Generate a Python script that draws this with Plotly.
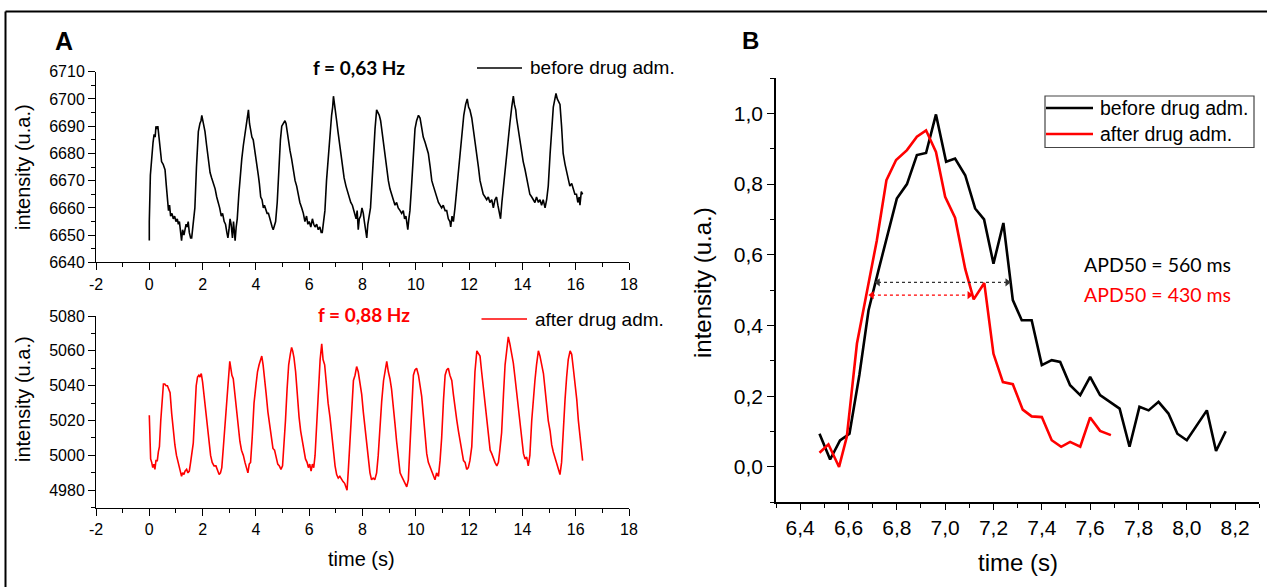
import plotly.graph_objects as go

W, H = 1267, 587

# ---------------- Panel A, top: before drug administration ----------------
before_time = [0.00, 0.00, 0.04, 0.09, 0.14, 0.18, 0.22, 0.25, 0.28, 0.32, 0.35, 0.38, 0.42, 0.46, 0.52, 0.59, 0.64, 0.69, 0.72, 0.76,
               0.80, 0.85, 0.90, 0.95, 1.00, 1.05, 1.09, 1.13, 1.17, 1.21, 1.25, 1.30, 1.34, 1.38, 1.42, 1.46, 1.50, 1.55, 1.59, 1.64,
               1.68, 1.71, 1.77, 1.84, 1.90, 1.94, 1.97, 2.01, 2.05, 2.09, 2.15, 2.22, 2.28, 2.34, 2.40, 2.47, 2.53, 2.59, 2.64, 2.70,
               2.75, 2.81, 2.86, 2.91, 2.95, 2.99, 3.03, 3.07, 3.12, 3.16, 3.20, 3.22, 3.26, 3.30, 3.36, 3.42, 3.47, 3.53, 3.58, 3.63,
               3.68, 3.72, 3.76, 3.80, 3.85, 3.90, 3.95, 4.00, 4.05, 4.09, 4.13, 4.18, 4.23, 4.28, 4.32, 4.37, 4.42, 4.47, 4.52, 4.57,
               4.61, 4.65, 4.70, 4.74, 4.80, 4.86, 4.92, 4.97, 5.03, 5.09, 5.13, 5.17, 5.22, 5.28, 5.34, 5.40, 5.47, 5.53, 5.59, 5.65,
               5.72, 5.78, 5.84, 5.90, 5.95, 6.00, 6.06, 6.12, 6.17, 6.22, 6.28, 6.34, 6.40, 6.45, 6.49, 6.54, 6.59, 6.65, 6.72, 6.78,
               6.84, 6.88, 6.91, 6.95, 7.00, 7.03, 7.08, 7.13, 7.19, 7.25, 7.31, 7.38, 7.44, 7.50, 7.56, 7.62, 7.67, 7.72, 7.76, 7.80,
               7.84, 7.88, 7.93, 7.98, 8.03, 8.07, 8.11, 8.16, 8.20, 8.25, 8.30, 8.36, 8.41, 8.47, 8.53, 8.58, 8.63, 8.68, 8.73, 8.78,
               8.84, 8.90, 8.97, 9.03, 9.10, 9.16, 9.22, 9.28, 9.34, 9.41, 9.47, 9.53, 9.58, 9.63, 9.66, 9.70, 9.74, 9.78, 9.84, 9.91,
               9.97, 10.03, 10.10, 10.16, 10.22, 10.28, 10.35, 10.41, 10.47, 10.54, 10.60, 10.66, 10.72, 10.78, 10.85, 10.91, 10.97, 11.03, 11.10, 11.16,
               11.22, 11.28, 11.31, 11.36, 11.41, 11.47, 11.53, 11.60, 11.66, 11.73, 11.80, 11.87, 11.93, 11.98, 12.03, 12.10, 12.16, 12.22, 12.28, 12.35,
               12.41, 12.47, 12.53, 12.60, 12.66, 12.72, 12.78, 12.85, 12.91, 12.97, 13.03, 13.08, 13.13, 13.18, 13.23, 13.29, 13.35, 13.41, 13.47, 13.53,
               13.60, 13.66, 13.70, 13.75, 13.78, 13.84, 13.91, 13.97, 14.03, 14.10, 14.16, 14.22, 14.28, 14.35, 14.41, 14.47, 14.53, 14.60, 14.66, 14.72,
               14.78, 14.85, 14.91, 14.97, 15.04, 15.10, 15.16, 15.22, 15.26, 15.31, 15.36, 15.41, 15.47, 15.53, 15.60, 15.66, 15.72, 15.78, 15.85, 15.91,
               15.97, 16.03, 16.08, 16.13, 16.16, 16.21, 16.26]
before_intensity = [6648, 6655, 6672, 6680, 6684, 6687, 6686, 6690, 6689, 6690, 6687, 6685, 6681, 6677, 6676, 6674, 6668, 6662, 6659, 6661,
                    6657, 6658, 6656, 6657, 6655, 6656, 6654, 6655, 6652, 6648, 6652, 6650, 6652, 6654, 6653, 6655, 6651, 6649, 6649, 6654,
                    6657, 6660, 6675, 6688, 6691, 6692, 6694, 6692, 6691, 6688, 6683, 6677, 6673, 6671, 6669, 6667, 6664, 6662, 6660, 6657,
                    6658, 6655, 6654, 6651, 6649, 6652, 6656, 6654, 6649, 6655, 6651, 6648, 6653, 6656, 6665, 6674, 6678, 6683, 6687, 6690,
                    6693, 6696, 6691, 6689, 6686, 6685, 6681, 6677, 6674, 6672, 6669, 6664, 6663, 6660, 6661, 6659, 6658, 6658, 6656, 6655,
                    6653, 6652, 6654, 6655, 6662, 6675, 6685, 6690, 6691, 6692, 6691, 6688, 6686, 6681, 6678, 6674, 6670, 6668, 6665, 6662,
                    6660, 6658, 6655, 6657, 6654, 6655, 6653, 6656, 6654, 6653, 6654, 6652, 6653, 6651, 6651, 6655, 6659, 6670, 6680, 6688,
                    6694, 6697, 6701, 6698, 6695, 6692, 6688, 6684, 6679, 6675, 6671, 6668, 6666, 6664, 6662, 6661, 6659, 6658, 6656, 6659,
                    6652, 6656, 6657, 6660, 6658, 6655, 6652, 6649, 6654, 6658, 6660, 6670, 6680, 6689, 6696, 6695, 6694, 6692, 6688, 6686,
                    6681, 6676, 6670, 6667, 6665, 6663, 6661, 6662, 6660, 6659, 6658, 6659, 6656, 6657, 6654, 6652, 6656, 6659, 6668, 6680,
                    6689, 6692, 6694, 6693, 6689, 6686, 6684, 6682, 6680, 6675, 6670, 6668, 6666, 6664, 6662, 6661, 6660, 6661, 6659, 6659,
                    6656, 6655, 6653, 6657, 6655, 6660, 6666, 6674, 6680, 6688, 6694, 6698, 6700, 6697, 6696, 6693, 6689, 6684, 6680, 6675,
                    6670, 6667, 6665, 6664, 6663, 6664, 6662, 6663, 6660, 6663, 6664, 6661, 6658, 6656, 6662, 6668, 6675, 6681, 6686, 6691,
                    6697, 6701, 6698, 6696, 6693, 6689, 6684, 6680, 6677, 6674, 6671, 6668, 6665, 6664, 6663, 6662, 6664, 6662, 6663, 6661,
                    6663, 6660, 6663, 6668, 6680, 6691, 6697, 6700, 6702, 6700, 6699, 6698, 6690, 6680, 6676, 6673, 6671, 6668, 6669, 6667,
                    6665, 6665, 6662, 6664, 6661, 6666, 6665]

# ---------------- Panel A, bottom: after drug administration ----------------
after_time = [0.00, 0.02, 0.05, 0.09, 0.13, 0.17, 0.21, 0.25, 0.30, 0.34, 0.38, 0.43, 0.48, 0.53, 0.58, 0.63, 0.68, 0.73, 0.78, 0.84,
              0.90, 0.96, 1.02, 1.07, 1.12, 1.17, 1.21, 1.25, 1.30, 1.34, 1.40, 1.45, 1.50, 1.55, 1.60, 1.65, 1.71, 1.76, 1.81, 1.86,
              1.90, 1.95, 2.00, 2.05, 2.11, 2.18, 2.24, 2.30, 2.36, 2.43, 2.50, 2.56, 2.62, 2.67, 2.72, 2.78, 2.85, 2.92, 2.98, 3.02,
              3.06, 3.10, 3.15, 3.20, 3.26, 3.33, 3.40, 3.46, 3.53, 3.59, 3.65, 3.70, 3.75, 3.80, 3.86, 3.93, 4.00, 4.06, 4.12, 4.18,
              4.22, 4.27, 4.32, 4.38, 4.45, 4.52, 4.58, 4.64, 4.70, 4.76, 4.82, 4.88, 4.94, 5.00, 5.05, 5.11, 5.17, 5.23, 5.29, 5.34,
              5.38, 5.43, 5.49, 5.55, 5.62, 5.68, 5.74, 5.80, 5.86, 5.92, 5.97, 6.02, 6.07, 6.12, 6.17, 6.22, 6.28, 6.35, 6.41, 6.47,
              6.52, 6.58, 6.64, 6.71, 6.78, 6.85, 6.91, 6.97, 7.03, 7.09, 7.15, 7.21, 7.27, 7.33, 7.38, 7.42, 7.47, 7.53, 7.59, 7.66,
              7.72, 7.78, 7.84, 7.90, 7.97, 8.03, 8.10, 8.16, 8.22, 8.28, 8.34, 8.40, 8.46, 8.53, 8.59, 8.66, 8.72, 8.79, 8.85, 8.91,
              8.97, 9.03, 9.09, 9.16, 9.22, 9.28, 9.34, 9.41, 9.47, 9.53, 9.60, 9.66, 9.72, 9.78, 9.85, 9.91, 9.97, 10.03, 10.10, 10.16,
              10.22, 10.29, 10.35, 10.41, 10.47, 10.54, 10.60, 10.66, 10.72, 10.78, 10.85, 10.91, 10.97, 11.04, 11.10, 11.16, 11.22, 11.28, 11.35, 11.41,
              11.47, 11.54, 11.60, 11.66, 11.72, 11.79, 11.85, 11.91, 11.97, 12.03, 12.10, 12.16, 12.22, 12.29, 12.35, 12.41, 12.47, 12.54, 12.60, 12.66,
              12.72, 12.79, 12.85, 12.91, 12.97, 13.04, 13.10, 13.16, 13.22, 13.29, 13.35, 13.41, 13.47, 13.53, 13.60, 13.66, 13.72, 13.78, 13.85, 13.91,
              13.97, 14.04, 14.10, 14.16, 14.22, 14.28, 14.35, 14.41, 14.47, 14.53, 14.60, 14.66, 14.72, 14.79, 14.85, 14.91, 14.97, 15.04, 15.10, 15.16,
              15.22, 15.28, 15.35, 15.41, 15.47, 15.53, 15.60, 15.66, 15.72, 15.79, 15.85, 15.91, 15.97, 16.04, 16.10, 16.16, 16.22, 16.26]
after_intensity = [5023, 5010, 4998, 4996, 4993, 4995, 4992, 4997, 4997, 5002, 5005, 5020, 5034, 5041, 5041, 5040, 5040, 5038, 5036, 5024,
                   5013, 5006, 5000, 4997, 4993, 4991, 4988, 4990, 4989, 4991, 4992, 4990, 4991, 4996, 5002, 5007, 5025, 5040, 5045, 5046,
                   5045, 5047, 5042, 5035, 5025, 5017, 5008, 5000, 4996, 4994, 4994, 4991, 4989, 4990, 4993, 5005, 5020, 5035, 5046, 5054,
                   5050, 5046, 5044, 5036, 5028, 5018, 5008, 5003, 5000, 4996, 4993, 4990, 4995, 4996, 5010, 5030, 5040, 5048, 5052, 5055,
                   5057, 5052, 5046, 5036, 5025, 5018, 5010, 5004, 5003, 4998, 4995, 4994, 4992, 4994, 5005, 5020, 5038, 5052, 5058, 5062,
                   5060, 5056, 5048, 5035, 5022, 5014, 5008, 5002, 4998, 4996, 4993, 4995, 4991, 4995, 4993, 5000, 5020, 5040, 5055, 5064,
                   5055, 5052, 5040, 5030, 5022, 5010, 5000, 4994, 4989, 4987, 4988, 4986, 4985, 4984, 4982, 4980, 4992, 5010, 5030, 5043,
                   5046, 5051, 5048, 5042, 5035, 5025, 5015, 5008, 4998, 4990, 4986, 4987, 4986, 4990, 5000, 5018, 5031, 5043, 5049, 5054,
                   5048, 5044, 5038, 5025, 5018, 5008, 4998, 4990, 4988, 4986, 4984, 4982, 4986, 5005, 5028, 5046, 5049, 5050, 5046, 5040,
                   5034, 5022, 5010, 5001, 4996, 4993, 4990, 4988, 4986, 4990, 4988, 4997, 5010, 5032, 5046, 5049, 5050, 5046, 5043, 5035,
                   5027, 5020, 5014, 5008, 5002, 4997, 4996, 4992, 4993, 4997, 5005, 5028, 5048, 5060, 5058, 5057, 5048, 5038, 5028, 5018,
                   5010, 5003, 5001, 4998, 4996, 4994, 4996, 5004, 5013, 5035, 5052, 5060, 5068, 5064, 5058, 5053, 5045, 5036, 5028, 5018,
                   5009, 5001, 4998, 4999, 4994, 5000, 5020, 5035, 5043, 5052, 5060, 5057, 5052, 5047, 5038, 5028, 5020, 5014, 5006, 5002,
                   4999, 4996, 4993, 4989, 4996, 5015, 5032, 5045, 5055, 5060, 5058, 5050, 5043, 5032, 5020, 5010, 5002, 4997]

# ---------------- Panel B: normalised single beats ----------------
beatB_before_time = [6.48, 6.524, 6.565, 6.604, 6.645, 6.683, 6.724, 6.765, 6.80, 6.842, 6.883, 6.921, 6.962, 7.004, 7.041,
                     7.083, 7.124, 7.161, 7.20, 7.241, 7.28, 7.317, 7.358, 7.40, 7.441, 7.476, 7.517, 7.559, 7.60, 7.641,
                     7.683, 7.722, 7.763, 7.804, 7.842, 7.883, 7.924, 7.961, 8.00, 8.041, 8.083, 8.121, 8.161]
beatB_before_norm = [0.094, 0.021, 0.075, 0.094, 0.26, 0.443, 0.556, 0.67, 0.759, 0.80, 0.882, 0.888, 0.997, 0.863, 0.872,
                     0.825, 0.731, 0.70, 0.575, 0.69, 0.472, 0.415, 0.415, 0.288, 0.302, 0.297, 0.231, 0.203, 0.255, 0.203,
                     0.184, 0.165, 0.057, 0.170, 0.160, 0.184, 0.151, 0.094, 0.0755, 0.118, 0.160, 0.045, 0.101]
beatB_after_time = [6.48, 6.517, 6.561, 6.593, 6.635, 6.676, 6.717, 6.757, 6.797, 6.842, 6.883, 6.921, 6.962, 7.00, 7.041,
                    7.083, 7.118, 7.162, 7.20, 7.239, 7.28, 7.321, 7.358, 7.40, 7.441, 7.48, 7.517, 7.559, 7.60, 7.641, 7.686]
beatB_after_norm = [0.040, 0.064, 0.0, 0.085, 0.349, 0.50, 0.64, 0.811, 0.868, 0.896, 0.934, 0.952, 0.891, 0.764, 0.705,
                    0.56, 0.474, 0.52, 0.32, 0.240, 0.234, 0.162, 0.143, 0.141, 0.0755, 0.057, 0.071, 0.057, 0.140, 0.102, 0.090]

# APD50 markers: (start time, end time, level)
apd_before = [6.722, 7.257, 0.522]
apd_after = [6.697, 7.100, 0.486]

# Tick labels
tickA_x_vals = [-2, 0, 2, 4, 6, 8, 10, 12, 14, 16, 18]
tickA_x_text = ["-2", "0", "2", "4", "6", "8", "10", "12", "14", "16", "18"]

BLACK = "#000000"
RED = "#ff0000"
FONT = "Liberation Sans, Arial, sans-serif"
CAL = "Lato, Carlito, Calibri, sans-serif"


def px(x):
    return x / W


def py(y):
    return 1 - y / H


fig = go.Figure()

fig.add_trace(go.Scatter(x=before_time, y=before_intensity, mode="lines",
                         line=dict(color=BLACK, width=1.6), xaxis="x", yaxis="y", showlegend=False))
fig.add_trace(go.Scatter(x=after_time, y=after_intensity, mode="lines",
                         line=dict(color=RED, width=1.6), xaxis="x2", yaxis="y2", showlegend=False))
fig.add_trace(go.Scatter(x=beatB_before_time, y=beatB_before_norm, mode="lines",
                         line=dict(color=BLACK, width=2.6), xaxis="x3", yaxis="y3", showlegend=False))
fig.add_trace(go.Scatter(x=beatB_after_time, y=beatB_after_norm, mode="lines",
                         line=dict(color=RED, width=2.6), xaxis="x3", yaxis="y3", showlegend=False))

# APD50 dotted double arrows
for apd, col in ((apd_before, "#333333"), (apd_after, RED)):
    fig.add_trace(go.Scatter(x=[apd[0], apd[1]], y=[apd[2], apd[2]], mode="lines+markers",
                             line=dict(color=col, width=1.2, dash="dot"),
                             marker=dict(symbol=["triangle-left", "triangle-right"], size=7, color=col),
                             xaxis="x3", yaxis="y3", showlegend=False))

axis_common = dict(showline=True, linecolor=BLACK, showgrid=False, zeroline=False,
                   ticks="outside", tickcolor=BLACK, mirror=False, automargin=False)

xA_dom = [px(96), px(629)]
fig.update_layout(
    width=W, height=H, margin=dict(l=0, r=0, t=0, b=0, autoexpand=False),
    paper_bgcolor="white", plot_bgcolor="white",
    separators=",.",
    xaxis=dict(domain=xA_dom, range=[-2, 18], anchor="y", tickmode="array",
               tickvals=tickA_x_vals, ticktext=tickA_x_text, ticklen=7, linewidth=1,
               minor=dict(ticks="outside", tickmode="linear", tick0=-1, dtick=2, ticklen=4, tickcolor=BLACK),
               tickfont=dict(family=FONT, size=16, color=BLACK), **axis_common),
    yaxis=dict(domain=[py(262.4), py(71.7)], range=[6640, 6710], anchor="x", dtick=10, tick0=6640,
               ticklen=7, linewidth=1,
               minor=dict(ticks="outside", dtick=5, tick0=6640, ticklen=4, tickcolor=BLACK),
               tickfont=dict(family=FONT, size=16, color=BLACK), **axis_common),
    xaxis2=dict(domain=xA_dom, range=[-2, 18], anchor="y2", tickmode="array",
                tickvals=tickA_x_vals, ticktext=tickA_x_text, ticklen=7, linewidth=1,
                minor=dict(ticks="outside", tickmode="linear", tick0=-1, dtick=2, ticklen=4, tickcolor=BLACK),
                tickfont=dict(family=FONT, size=16, color=BLACK), **axis_common),
    yaxis2=dict(domain=[py(507.7), py(316)], range=[4970, 5080], anchor="x2", dtick=20, tick0=4980,
                ticklen=7, linewidth=1,
                minor=dict(ticks="outside", dtick=10, tick0=4970, ticklen=4, tickcolor=BLACK),
                tickfont=dict(family=FONT, size=16, color=BLACK), **axis_common),
    xaxis3=dict(domain=[px(776), px(1259.3)], range=[6.3, 8.3], anchor="y3", dtick=0.2, tick0=6.4,
                tickformat=".1f", ticklen=6, linewidth=1.6,
                minor=dict(ticks="outside", dtick=0.1, tick0=6.3, ticklen=4, tickcolor=BLACK),
                tickfont=dict(family=FONT, size=21, color=BLACK), **axis_common),
    yaxis3=dict(domain=[py(502.3), py(78)], range=[-0.1, 1.1], anchor="x3", dtick=0.2, tick0=0,
                tickformat=".1f", ticklen=7, linewidth=1.6,
                minor=dict(ticks="outside", dtick=0.1, tick0=-0.1, ticklen=4, tickcolor=BLACK),
                tickfont=dict(family=FONT, size=21, color=BLACK), **axis_common),
)

ann = []


def text(x, y, s, size, color=BLACK, family=FONT, angle=0, xanchor="center", bold=False):
    ann.append(dict(x=px(x), y=py(y), xref="paper", yref="paper", text=("<b>%s</b>" % s) if bold else s,
                    showarrow=False, xanchor=xanchor, yanchor="middle", textangle=angle,
                    font=dict(family=family, size=size, color=color)))


# Panel letters
text(63.5, 41, "A", 25, bold=True)
text(750.5, 41, "B", 24, bold=True)
# Axis titles
text(23, 167, "intensity (u.a.)", 20, angle=-90)
text(23, 399, "intensity (u.a.)", 20, angle=-90)
text(361, 559, "time (s)", 20)
text(702, 283, "intensity (u.a.)", 24, angle=-90)
text(1017.5, 562, "time (s)", 24)
# Frequencies
text(358.5, 68, "f = 0,63 Hz", 19, family=CAL, bold=True)
text(364, 314, "f = 0,88 Hz", 19, color=RED, family=CAL, bold=True)
# Legends of panel A
text(528, 68, "before drug adm.", 19, xanchor="left")
text(532.5, 319, "after drug adm.", 19, xanchor="left")
# Legend of panel B
text(1098, 108, "before drug adm.", 19.5, xanchor="left")
text(1098, 134, "after drug adm.", 19.5, xanchor="left")
# APD50 labels
text(1081.5, 264.5, "APD50 = 560 ms", 19.5, family=CAL, xanchor="left")
text(1081.5, 294.5, "APD50 = 430 ms", 19.5, color=RED, family=CAL, xanchor="left")

fig.update_layout(annotations=ann)

shapes = []


def line(x0, y0, x1, y1, color, width):
    shapes.append(dict(type="line", xref="paper", yref="paper", x0=px(x0), y0=py(y0), x1=px(x1), y1=py(y1),
                       line=dict(color=color, width=width)))


# outer frame (top and left edges)
line(5.5, 11.5, 1267, 11.5, BLACK, 2)
line(5.5, 11.5, 5.5, 587, BLACK, 2)
# legend samples
line(477, 68, 522, 68, BLACK, 1.5)
line(481.5, 319, 527, 319, RED, 1.5)
shapes.append(dict(type="rect", xref="paper", yref="paper", x0=px(1045), y0=py(147.5), x1=px(1254), y1=py(96),
                   line=dict(color="#444444", width=1.2), fillcolor="rgba(0,0,0,0)"))
line(1046, 108, 1093, 108, BLACK, 2.6)
line(1046, 134, 1093, 134, RED, 2.6)

fig.update_layout(shapes=shapes)

fig.write_html("out.html", post_script="document.body.style.margin='0';document.body.style.overflow='hidden';")
